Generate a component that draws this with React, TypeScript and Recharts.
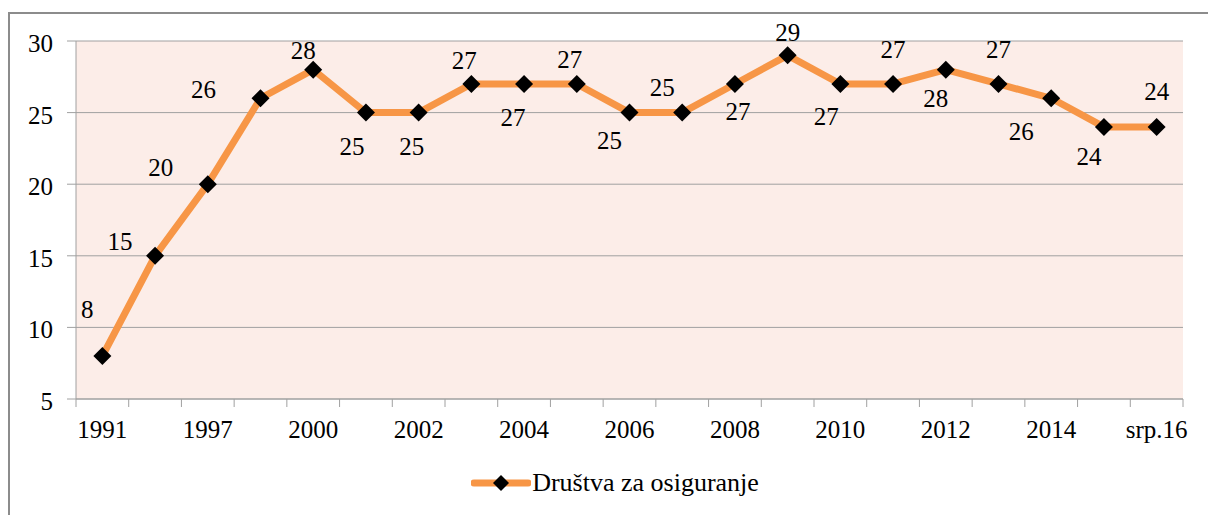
import { LineChart, Line, XAxis, YAxis, CartesianGrid, Legend, LabelList } from "recharts";

const years = ['1991', '1995', '1997', '1999', '2000', '2001', '2002', '2003', '2004', '2005', '2006',
  '2007', '2008', '2009', '2010', '2011', '2012', '2013', '2014', '2015', 'srp.16'];
const insurers = [8, 15, 20, 26, 28, 25, 25, 27, 27, 27, 25, 25, 27, 29, 27, 27, 28, 27, 26, 24, 24];
const yTicks = [5, 10, 15, 20, 25, 30];
const seriesName = 'Društva za osiguranje';

const data = years.map((year, i) => ({ year, value: insurers[i] }));

const W = 1208;
const H = 515;
const margin = { top: 41, right: 25, left: 0, bottom: 17 };
const yAxisW = 76;
const step = (W - margin.left - margin.right - yAxisW) / years.length;

const FONT = '"Liberation Serif", "Times New Roman", serif';
const FS = 25;
const ORANGE = '#F79646';
const GRID = '#A0A0A0';

// hand placement of each value label, relative to its marker (like the excel original)
const labelNudge: [number, number][] = [
  [-15, -46], [-35, -14], [-47, -16], [-57, -8], [-10, -19], [-14, 34], [-7, 34],
  [-7, -23], [-11, 34], [-7, -24], [-20, 28], [-20, -25], [3, 28], [0, -22],
  [-14, 33], [0, -34], [-10, 29], [0, -34], [-30, 34], [-15, 30], [0, -35],
];

function XTick(props: any) {
  const { x, y, payload } = props;
  const i = payload.index;
  return (
    <g>
      <line x1={x - step / 2} x2={x - step / 2} y1={y} y2={y + 8} stroke={GRID} />
      {i === years.length - 1 && <line x1={x + step / 2} x2={x + step / 2} y1={y} y2={y + 8} stroke={GRID} />}
      {i % 2 === 0 && (
        <text x={x} y={y + 39} textAnchor="middle" fontFamily={FONT} fontSize={FS} fill="#000">
          {payload.value}
        </text>
      )}
    </g>
  );
}

function YTick(props: any) {
  const { x, y, payload } = props;
  return (
    <text x={x} y={y + 11} textAnchor="end" fontFamily={FONT} fontSize={FS} fill="#000">
      {payload.value}
    </text>
  );
}

function Diamond(props: any) {
  const { cx, cy, index } = props;
  const r = 9;
  return <path key={index} d={`M${cx},${cy - r}L${cx + r},${cy}L${cx},${cy + r}L${cx - r},${cy}Z`} fill="#000" />;
}

function ValueLabel(props: any) {
  const { x, y, value, index } = props;
  const [dx, dy] = labelNudge[index] || [0, -25];
  return (
    <text x={x + dx} y={y + dy + 8} textAnchor="middle" fontFamily={FONT} fontSize={FS} fill="#000">
      {value}
    </text>
  );
}

function LegendBox() {
  return (
    <div style={{ display: 'flex', alignItems: 'center', justifyContent: 'center', height: 30, paddingLeft: 47 }}>
      <svg width={60} height={20}>
        <line x1={3} x2={57} y1={10} y2={10} stroke={ORANGE} strokeWidth={7} strokeLinecap="round" />
        <path d="M30,2L38,10L30,18L22,10Z" fill="#000" />
      </svg>
      <span style={{ fontFamily: FONT, fontSize: 26, color: '#000', marginLeft: 1 }}>{seriesName}</span>
    </div>
  );
}

export default function App() {
  return (
    <div style={{ position: 'relative', width: W, height: H, overflow: 'hidden', background: '#fff' }}>
      <style>{'body{margin:0}'}</style>
      <div style={{ position: 'absolute', left: 8, top: 12, width: 1300, height: 600, border: '2px solid #8C8C8C' }} />
      <div style={{ position: 'absolute', left: 0, top: 0 }}>
        <LineChart width={W} height={H} data={data} margin={margin}>
          <CartesianGrid vertical={false} fill="#FCEDE8" stroke={GRID} />
          <XAxis
            dataKey="year"
            interval={0}
            padding={{ left: step / 2, right: step / 2 }}
            height={69}
            tickLine={false}
            tickSize={0}
            tickMargin={0}
            axisLine={{ stroke: GRID }}
            tick={XTick}
          />
          <YAxis
            width={yAxisW}
            domain={[5, 30]}
            ticks={yTicks}
            interval={0}
            tickSize={9}
            tickMargin={14}
            tickLine={{ stroke: GRID }}
            axisLine={{ stroke: GRID }}
            tick={YTick}
          />
          <Legend verticalAlign="bottom" height={30} content={LegendBox} />
          <Line
            type="linear"
            dataKey="value"
            name={seriesName}
            stroke={ORANGE}
            strokeWidth={7}
            strokeLinejoin="round"
            dot={Diamond}
            activeDot={false}
            isAnimationActive={false}
          >
            <LabelList dataKey="value" content={ValueLabel} />
          </Line>
        </LineChart>
      </div>
    </div>
  );
}
